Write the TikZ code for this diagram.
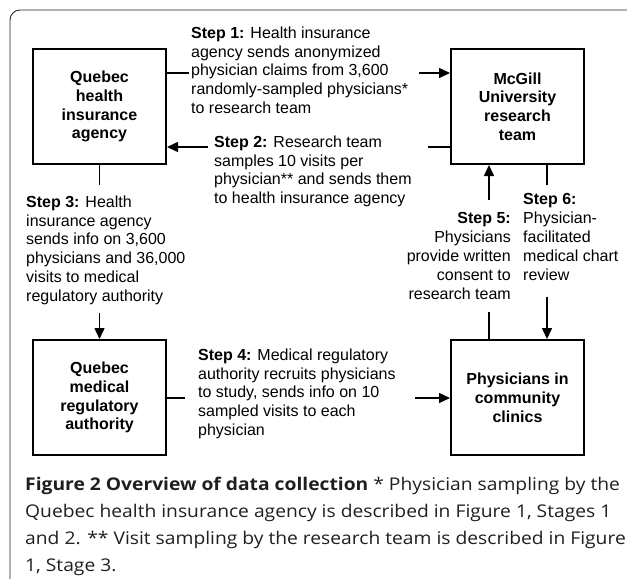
\documentclass[tikz,border=0pt]{standalone}
\usepackage{fontspec}
\setmainfont{Liberation Sans}
\newfontfamily\capfont[FakeStretch=1.1]{Open Sans}
\usetikzlibrary{arrows.meta}
\begin{document}
\begin{tikzpicture}[x=1pt,y=-1pt,
  box/.style={draw, line width=2pt, minimum width=133pt, minimum height=115pt, inner sep=0pt, align=center, font=\fontsize{16}{18.8}\selectfont\bfseries},
  lbl/.style={inner sep=0pt, font=\fontsize{16}{18.8}\selectfont},
  conn/.style={line width=1.5pt},
  arr/.style={line width=1.5pt, -{Triangle[length=11pt,width=10pt]}},
  frame/.style={line width=0.9pt, black!85, rounded corners=10pt},
  captext/.style={inner sep=0pt, align=left, text=black!88, font=\capfont\fontsize{17.5}{27.2}\selectfont}
]
\useasboundingbox (0,0) rectangle (627,579);
\draw[frame] (627,10) -- (10,10) -- (10,579);

\node[box] (hia) at (99.5,106.5) {Quebec\\health\\insurance\\agency};
\node[box] (mcg) at (517.5,106.5) {McGill\\University\\research\\team};
\node[box] (mra) at (99.5,397.5) {Quebec\\medical\\regulatory\\authority};
\node[box] (phy) at (517.5,397.5) {Physicians in\\community\\clinics};

\node[lbl, anchor=north west, align=left] (t1) at (191,26.5) {\textbf{Step 1:} Health insurance\\agency sends anonymized\\physician claims from 3,600\\randomly-sampled physicians*\\to research team};
\node[lbl, anchor=north west, align=left] (t2) at (214,135.5) {\textbf{Step 2:} Research team\\samples 10 visits per\\physician** and sends them\\to health insurance agency};
\node[lbl, anchor=north west, align=left] (t3) at (26,195.5) {\textbf{Step 3:} Health\\insurance agency\\sends info on 3,600\\physicians and 36,000\\visits to medical\\regulatory authority};
\node[lbl, anchor=north west, align=left] (t4) at (198,348.5) {\textbf{Step 4:} Medical regulatory\\authority recruits physicians\\to study, sends info on 10\\sampled visits to each\\physician};
\node[lbl, anchor=north east, align=right] (t5) at (511,212.5) {\textbf{Step 5:}\\Physicians\\provide written\\consent to\\research team};
\node[lbl, anchor=north west, align=left] (t6) at (523,193.5) {\textbf{Step 6:}\\Physician-\\facilitated\\medical chart\\review};

\coordinate (c1a) at (189,73);  \coordinate (c1b) at (419,73);
\coordinate (c2a) at (428,147); \coordinate (c2b) at (208,147);
\coordinate (c3a) at (99.5,185); \coordinate (c3b) at (99.5,313);
\coordinate (c4a) at (185,398); \coordinate (c4b) at (415,398);
\coordinate (c5a) at (489,312); \coordinate (c5b) at (489,200);
\coordinate (c6a) at (547,185); \coordinate (c6b) at (547,297);

\draw[conn] (hia.east |- c1a) -- (c1a);
\draw[arr] (c1b) -- (mcg.west |- c1b);
\draw[conn] (mcg.west |- c2a) -- (c2a);
\draw[arr] (c2b) -- (hia.east |- c2b);
\draw[conn] (hia.south) -- (c3a);
\draw[arr] (c3b) -- (mra.north);
\draw[conn] (mra.east |- c4a) -- (c4a);
\draw[arr] (c4b) -- (phy.west |- c4b);
\draw[conn] (phy.north -| c5a) -- (c5a);
\draw[arr] (c5b) -- (mcg.south -| c5b);
\draw[conn] (mcg.south -| c6a) -- (c6a);
\draw[arr] (c6b) -- (phy.north -| c6b);

\node[captext, anchor=north west] (cap) at (25,476.5) {\textbf{Figure 2 Overview of data collection} * Physician sampling by the\\Quebec health insurance agency is described in Figure 1, Stages 1\\and 2. ** Visit sampling by the research team is described in Figure\\1, Stage 3.};
\end{tikzpicture}
\end{document}
